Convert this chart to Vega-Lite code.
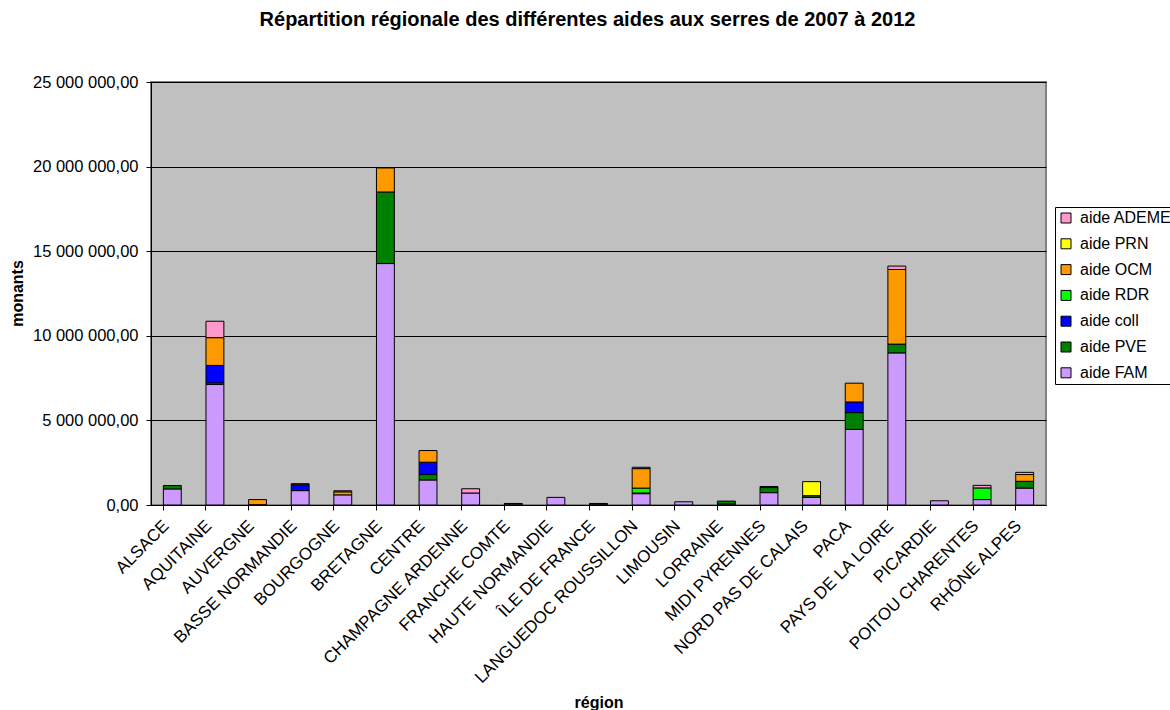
{
  "$schema": "https://vega.github.io/schema/vega-lite/v6.json",
  "autosize": "none",
  "width": 895,
  "height": 423,
  "padding": {"left": 151, "top": 82, "right": 124, "bottom": 205},
  "background": "white",
  "title": {
    "text": "Répartition régionale des différentes aides aux serres de 2007 à 2012",
    "font": "Liberation Sans",
    "fontSize": 20,
    "fontWeight": "bold",
    "color": "black",
    "anchor": "middle",
    "frame": "group",
    "dx": -11,
    "baseline": "alphabetic",
    "offset": 28
  },
  "data": {
    "values": [
      {"region": "ALSACE", "aide": "aide FAM", "ordre": 1, "montant": 950000},
      {"region": "ALSACE", "aide": "aide PVE", "ordre": 2, "montant": 200000},
      {"region": "AQUITAINE", "aide": "aide FAM", "ordre": 1, "montant": 7120000},
      {"region": "AQUITAINE", "aide": "aide PVE", "ordre": 2, "montant": 100000},
      {"region": "AQUITAINE", "aide": "aide coll", "ordre": 3, "montant": 1030000},
      {"region": "AQUITAINE", "aide": "aide OCM", "ordre": 5, "montant": 1640000},
      {"region": "AQUITAINE", "aide": "aide ADEME", "ordre": 7, "montant": 970000},
      {"region": "AUVERGNE", "aide": "aide FAM", "ordre": 1, "montant": 20000},
      {"region": "AUVERGNE", "aide": "aide OCM", "ordre": 5, "montant": 300000},
      {"region": "BASSE NORMANDIE", "aide": "aide FAM", "ordre": 1, "montant": 850000},
      {"region": "BASSE NORMANDIE", "aide": "aide coll", "ordre": 3, "montant": 350000},
      {"region": "BASSE NORMANDIE", "aide": "aide OCM", "ordre": 5, "montant": 60000},
      {"region": "BOURGOGNE", "aide": "aide FAM", "ordre": 1, "montant": 600000},
      {"region": "BOURGOGNE", "aide": "aide OCM", "ordre": 5, "montant": 180000},
      {"region": "BOURGOGNE", "aide": "aide ADEME", "ordre": 7, "montant": 60000},
      {"region": "BRETAGNE", "aide": "aide FAM", "ordre": 1, "montant": 14270000},
      {"region": "BRETAGNE", "aide": "aide PVE", "ordre": 2, "montant": 4230000},
      {"region": "BRETAGNE", "aide": "aide OCM", "ordre": 5, "montant": 1420000},
      {"region": "CENTRE", "aide": "aide FAM", "ordre": 1, "montant": 1480000},
      {"region": "CENTRE", "aide": "aide PVE", "ordre": 2, "montant": 320000},
      {"region": "CENTRE", "aide": "aide coll", "ordre": 3, "montant": 730000},
      {"region": "CENTRE", "aide": "aide OCM", "ordre": 5, "montant": 690000},
      {"region": "CHAMPAGNE ARDENNE", "aide": "aide FAM", "ordre": 1, "montant": 710000},
      {"region": "CHAMPAGNE ARDENNE", "aide": "aide ADEME", "ordre": 7, "montant": 250000},
      {"region": "FRANCHE COMTE", "aide": "aide FAM", "ordre": 1, "montant": 60000},
      {"region": "FRANCHE COMTE", "aide": "aide PVE", "ordre": 2, "montant": 30000},
      {"region": "HAUTE NORMANDIE", "aide": "aide FAM", "ordre": 1, "montant": 450000},
      {"region": "ÎLE DE FRANCE", "aide": "aide FAM", "ordre": 1, "montant": 50000},
      {"region": "ÎLE DE FRANCE", "aide": "aide PVE", "ordre": 2, "montant": 40000},
      {"region": "LANGUEDOC ROUSSILLON", "aide": "aide FAM", "ordre": 1, "montant": 670000},
      {"region": "LANGUEDOC ROUSSILLON", "aide": "aide PVE", "ordre": 2, "montant": 40000},
      {"region": "LANGUEDOC ROUSSILLON", "aide": "aide RDR", "ordre": 4, "montant": 290000},
      {"region": "LANGUEDOC ROUSSILLON", "aide": "aide OCM", "ordre": 5, "montant": 1150000},
      {"region": "LANGUEDOC ROUSSILLON", "aide": "aide ADEME", "ordre": 7, "montant": 80000},
      {"region": "LIMOUSIN", "aide": "aide FAM", "ordre": 1, "montant": 190000},
      {"region": "LORRAINE", "aide": "aide FAM", "ordre": 1, "montant": 60000},
      {"region": "LORRAINE", "aide": "aide PVE", "ordre": 2, "montant": 170000},
      {"region": "MIDI PYRENNES", "aide": "aide FAM", "ordre": 1, "montant": 730000},
      {"region": "MIDI PYRENNES", "aide": "aide PVE", "ordre": 2, "montant": 300000},
      {"region": "MIDI PYRENNES", "aide": "aide coll", "ordre": 3, "montant": 60000},
      {"region": "NORD PAS DE CALAIS", "aide": "aide FAM", "ordre": 1, "montant": 450000},
      {"region": "NORD PAS DE CALAIS", "aide": "aide PVE", "ordre": 2, "montant": 100000},
      {"region": "NORD PAS DE CALAIS", "aide": "aide PRN", "ordre": 6, "montant": 830000},
      {"region": "PACA", "aide": "aide FAM", "ordre": 1, "montant": 4470000},
      {"region": "PACA", "aide": "aide PVE", "ordre": 2, "montant": 990000},
      {"region": "PACA", "aide": "aide coll", "ordre": 3, "montant": 630000},
      {"region": "PACA", "aide": "aide OCM", "ordre": 5, "montant": 1110000},
      {"region": "PAYS DE LA LOIRE", "aide": "aide FAM", "ordre": 1, "montant": 8990000},
      {"region": "PAYS DE LA LOIRE", "aide": "aide PVE", "ordre": 2, "montant": 520000},
      {"region": "PAYS DE LA LOIRE", "aide": "aide OCM", "ordre": 5, "montant": 4410000},
      {"region": "PAYS DE LA LOIRE", "aide": "aide ADEME", "ordre": 7, "montant": 200000},
      {"region": "PICARDIE", "aide": "aide FAM", "ordre": 1, "montant": 250000},
      {"region": "POITOU CHARENTES", "aide": "aide FAM", "ordre": 1, "montant": 320000},
      {"region": "POITOU CHARENTES", "aide": "aide RDR", "ordre": 4, "montant": 690000},
      {"region": "POITOU CHARENTES", "aide": "aide ADEME", "ordre": 7, "montant": 150000},
      {"region": "RHÔNE ALPES", "aide": "aide FAM", "ordre": 1, "montant": 1000000},
      {"region": "RHÔNE ALPES", "aide": "aide PVE", "ordre": 2, "montant": 400000},
      {"region": "RHÔNE ALPES", "aide": "aide OCM", "ordre": 5, "montant": 400000},
      {"region": "RHÔNE ALPES", "aide": "aide ADEME", "ordre": 7, "montant": 130000}
    ]
  },
  "mark": {"type": "bar", "stroke": "black", "strokeWidth": 1},
  "encoding": {
    "x": {
      "field": "region",
      "type": "nominal",
      "sort": null,
      "scale": {"paddingInner": 0.58, "paddingOuter": 0.29},
      "axis": {
        "title": "région",
        "titleFont": "Liberation Sans",
        "titleFontSize": 16,
        "titleFontWeight": "bold",
        "titleColor": "black",
        "titleY": 202,
        "titleBaseline": "alphabetic",
        "bandPosition": 0,
        "labelOffset": -6,
        "labelAngle": -45,
        "labelAlign": "right",
        "labelBaseline": "middle",
        "labelPadding": 13,
        "labelFont": "Liberation Sans",
        "labelFontSize": 17,
        "labelColor": "black",
        "labelOverlap": false,
        "labelBound": false,
        "labelLimit": 500,
        "tickSize": 5,
        "tickColor": "black",
        "domainColor": "black",
        "grid": false
      }
    },
    "y": {
      "field": "montant",
      "type": "quantitative",
      "stack": "zero",
      "scale": {"domain": [0, 25000000], "nice": false},
      "axis": {
        "title": "monants",
        "titleFont": "Liberation Sans",
        "titleFontSize": 16,
        "titleFontWeight": "bold",
        "titleColor": "black",
        "titleX": -134,
        "titleY": 211,
        "titleAngle": -90,
        "titleAlign": "center",
        "titleBaseline": "middle",
        "values": [0, 5000000, 10000000, 15000000, 20000000, 25000000],
        "labelExpr": "replace(replace(format(datum.value, ',.2f'), regexp(',', 'g'), ' '), '.', ',')",
        "labelFont": "Liberation Sans",
        "labelFontSize": 16.5,
        "labelColor": "black",
        "labelPadding": 8,
        "tickSize": 5,
        "tickColor": "black",
        "domainColor": "black",
        "gridColor": "black",
        "gridOpacity": 1,
        "gridWidth": 1
      }
    },
    "color": {
      "field": "aide",
      "type": "nominal",
      "scale": {
        "domain": ["aide ADEME", "aide PRN", "aide OCM", "aide RDR", "aide coll", "aide PVE", "aide FAM"],
        "range": ["#FF99CC", "#FFFF00", "#FF9900", "#00FF00", "#0000FF", "#008000", "#CC99FF"]
      },
      "legend": {
        "title": null,
        "orient": "none",
        "legendX": 904,
        "legendY": 125,
        "padding": 3,
        "fillColor": "white",
        "strokeColor": "black",
        "symbolType": "square",
        "symbolSize": 100,
        "symbolStrokeColor": "black",
        "symbolStrokeWidth": 1,
        "labelFont": "Liberation Sans",
        "labelFontSize": 16,
        "labelColor": "black",
        "labelOffset": 6,
        "rowPadding": 9.8,
        "labelLimit": 300
      }
    },
    "order": {"field": "ordre", "type": "quantitative"}
  },
  "config": {
    "view": {"fill": "#C0C0C0", "stroke": "#808080", "strokeWidth": 2}
  }
}
